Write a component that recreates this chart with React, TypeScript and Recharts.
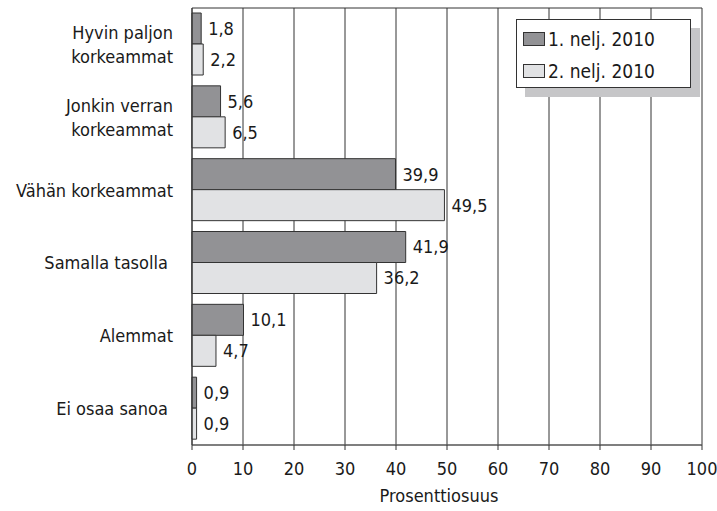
import { BarChart, Bar, XAxis, YAxis, CartesianGrid, LabelList } from 'recharts';

const categories = [
  'Hyvin paljon\nkorkeammat',
  'Jonkin verran\nkorkeammat',
  'Vähän korkeammat',
  'Samalla tasolla ',
  'Alemmat',
  'Ei osaa sanoa ',
];
const q1Values = [1.8, 5.6, 39.9, 41.9, 10.1, 0.9];
const q2Values = [2.2, 6.5, 49.5, 36.2, 4.7, 0.9];
const seriesNames = ['1. nelj. 2010', '2. nelj. 2010'];
const xTicks = [0, 10, 20, 30, 40, 50, 60, 70, 80, 90, 100];

const data = categories.map((name, i) => ({ name, q1: q1Values[i], q2: q2Values[i] }));

const FONT = '"Liberation Sans Narrow", "DejaVu Sans Condensed", "Roboto", sans-serif';
const TEXT = '#1a1a1a';
const DARK = '#929295';
const LIGHT = '#e1e2e4';
const STROKE = '#333';

const fmt = (v: any) => String(v).replace('.', ',');

function CategoryTick(props: any) {
  const { x, y, payload } = props;
  const lines = String(payload.value).split('\n');
  const lh = 24;
  const y0 = y - ((lines.length - 1) * lh) / 2;
  return (
    <text
      x={x}
      y={y0}
      textAnchor="end"
      fontFamily={FONT}
      fontSize={18}
      fill={TEXT}
      style={{ whiteSpace: 'pre' }}
    >
      {lines.map((l, i) => (
        <tspan key={i} x={x} y={y0 + i * lh} dy="0.36em">
          {l}
        </tspan>
      ))}
    </text>
  );
}

function LegendBox() {
  const items = [
    { name: seriesNames[0], color: DARK },
    { name: seriesNames[1], color: LIGHT },
  ];
  return (
    <div
      style={{
        position: 'absolute',
        left: 516,
        top: 19,
        width: 173,
        height: 67,
        border: `1px solid ${STROKE}`,
        background: '#fff',
        boxShadow: '9px 9px 0 #c6c6c8',
        fontFamily: FONT,
        fontSize: 19,
        color: TEXT,
        boxSizing: 'content-box',
      }}
    >
      {items.map((it, i) => (
        <div key={i} style={{ display: 'flex', alignItems: 'center', height: 32, paddingLeft: 6, marginTop: i === 0 ? 3 : 0 }}>
          <span
            style={{
              display: 'inline-block',
              width: 20,
              height: 12,
              background: it.color,
              border: `1px solid ${STROKE}`,
              marginRight: 3,
            }}
          />
          <span>{it.name}</span>
        </div>
      ))}
    </div>
  );
}

export default function App() {
  return (
    <div style={{ position: 'absolute', left: 0, top: 0, width: 717, height: 511, background: '#fff' }}>
      <BarChart
        width={717}
        height={511}
        data={data}
        layout="vertical"
        margin={{ top: 8, right: 15, left: 0, bottom: 0 }}
        barGap={0}
        barSize={31}
      >
        <CartesianGrid horizontal vertical horizontalPoints={[8]} stroke="#333" strokeWidth={1} />
        <XAxis
          type="number"
          domain={[0, 100]}
          ticks={xTicks}
          interval={0}
          axisLine={{ stroke: '#555', strokeWidth: 1.5 }}
          tickLine={{ stroke: '#333' }}
          tickSize={5}
          tickMargin={12}
          height={66}
          tick={{ fontFamily: FONT, fontSize: 18, fill: TEXT }}
          label={{
            value: 'Prosenttiosuus',
            position: 'insideBottom',
            offset: 9,
            dx: -8,
            style: { fontFamily: FONT, fontSize: 18, fill: TEXT, textAnchor: 'middle' },
          }}
        />
        <YAxis
          type="category"
          dataKey="name"
          width={192}
          axisLine={{ stroke: '#333' }}
          tickLine={false}
          tickSize={0}
          tickMargin={19}
          interval={0}
          tick={<CategoryTick />}
        />
        <Bar dataKey="q1" name={seriesNames[0]} fill={DARK} stroke={STROKE} strokeWidth={1} isAnimationActive={false}>
          <LabelList dataKey="q1" position="right" offset={7} formatter={fmt} style={{ fontFamily: FONT, fontSize: 18, fill: TEXT }} />
        </Bar>
        <Bar dataKey="q2" name={seriesNames[1]} fill={LIGHT} stroke={STROKE} strokeWidth={1} isAnimationActive={false}>
          <LabelList dataKey="q2" position="right" offset={7} formatter={fmt} style={{ fontFamily: FONT, fontSize: 18, fill: TEXT }} />
        </Bar>
      </BarChart>
      <LegendBox />
    </div>
  );
}
